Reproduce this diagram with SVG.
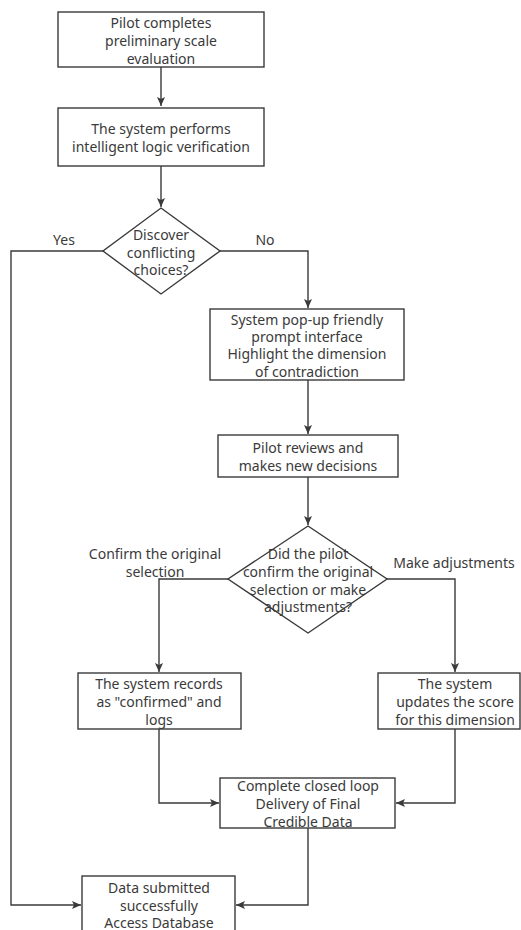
<svg xmlns="http://www.w3.org/2000/svg" width="521" height="930" viewBox="0 0 521 930">
<style>
.n{fill:#fff;stroke:#3a3a3a;stroke-width:1.4}
.t{font-family:"Noto Sans","DejaVu Sans",sans-serif;font-size:14px;fill:#3a3a3a;text-anchor:middle;dominant-baseline:central}
.c{fill:none;stroke:#3a3a3a;stroke-width:1.4}
</style>
<defs>
<marker id="ah" markerWidth="10" markerHeight="10" refX="9" refY="5" orient="auto" markerUnits="userSpaceOnUse">
<path d="M0,1 L9,5 L0,9 L2,5 Z" fill="#3a3a3a"/>
</marker>
</defs>
<rect width="521" height="930" fill="#fff"/>
<g id="connectors">
<path class="c" d="M161,67 V106" marker-end="url(#ah)"/>
<path class="c" d="M161,166 V207" marker-end="url(#ah)"/>
<path class="c" d="M103,251 H11 V905 H81" marker-end="url(#ah)"/>
<path class="c" d="M220,251 H308 V308" marker-end="url(#ah)"/>
<path class="c" d="M308,380 V434" marker-end="url(#ah)"/>
<path class="c" d="M308,477 V525" marker-end="url(#ah)"/>
<path class="c" d="M228,579 H159 V672" marker-end="url(#ah)"/>
<path class="c" d="M387,579 H455 V672" marker-end="url(#ah)"/>
<path class="c" d="M159,729 V803 H219" marker-end="url(#ah)"/>
<path class="c" d="M455,729 V803 H396" marker-end="url(#ah)"/>
<path class="c" d="M308,828 V905 H236" marker-end="url(#ah)"/>
<text class="t" x="64" y="239">Yes</text>
<text class="t" x="265" y="239">No</text>
<text class="t" x="155" y="553">Confirm the original</text>
<text class="t" x="155" y="571">selection</text>
<text class="t" x="454" y="562">Make adjustments</text>
</g>
<g id="n1">
<rect class="n" x="58" y="12" width="206" height="55"/>
<text class="t" x="161" y="22">Pilot completes</text>
<text class="t" x="161" y="40">preliminary scale</text>
<text class="t" x="161" y="58">evaluation</text>
</g>
<g id="n2">
<rect class="n" x="58" y="108" width="206" height="58"/>
<text class="t" x="161" y="128">The system performs</text>
<text class="t" x="161" y="146">intelligent logic verification</text>
</g>
<g id="n3">
<polygon class="n" points="161,208 220,251 161,294 103,251"/>
<text class="t" x="161" y="234">Discover</text>
<text class="t" x="161" y="252">conflicting</text>
<text class="t" x="161" y="269">choices?</text>
</g>
<g id="n4">
<rect class="n" x="210" y="309" width="194" height="71"/>
<text class="t" x="307" y="319">System pop-up friendly</text>
<text class="t" x="307" y="336">prompt interface</text>
<text class="t" x="307" y="353">Highlight the dimension</text>
<text class="t" x="307" y="371">of contradiction</text>
</g>
<g id="n5">
<rect class="n" x="218" y="435" width="180" height="42"/>
<text class="t" x="308" y="447">Pilot reviews and</text>
<text class="t" x="308" y="465">makes new decisions</text>
</g>
<g id="n6">
<polygon class="n" points="308,526 387,579 308,633 228,579"/>
<text class="t" x="308" y="553">Did the pilot</text>
<text class="t" x="308" y="571">confirm the original</text>
<text class="t" x="308" y="589">selection or make</text>
<text class="t" x="308" y="606">adjustments?</text>
</g>
<g id="n7">
<rect class="n" x="78" y="673" width="163" height="56"/>
<text class="t" x="159" y="683">The system records</text>
<text class="t" x="159" y="701">as "confirmed" and</text>
<text class="t" x="159" y="719">logs</text>
</g>
<g id="n8">
<rect class="n" x="378" y="673" width="142" height="56"/>
<text class="t" x="455" y="683">The system</text>
<text class="t" x="455" y="701">updates the score</text>
<text class="t" x="455" y="719">for this dimension</text>
</g>
<g id="n9">
<rect class="n" x="220" y="778" width="175" height="50"/>
<text class="t" x="308" y="785">Complete closed loop</text>
<text class="t" x="308" y="803">Delivery of Final</text>
<text class="t" x="308" y="821">Credible Data</text>
</g>
<g id="n10">
<rect class="n" x="82" y="876" width="153" height="60"/>
<text class="t" x="159" y="887">Data submitted</text>
<text class="t" x="159" y="905">successfully</text>
<text class="t" x="159" y="922">Access Database</text>
</g>
</svg>
